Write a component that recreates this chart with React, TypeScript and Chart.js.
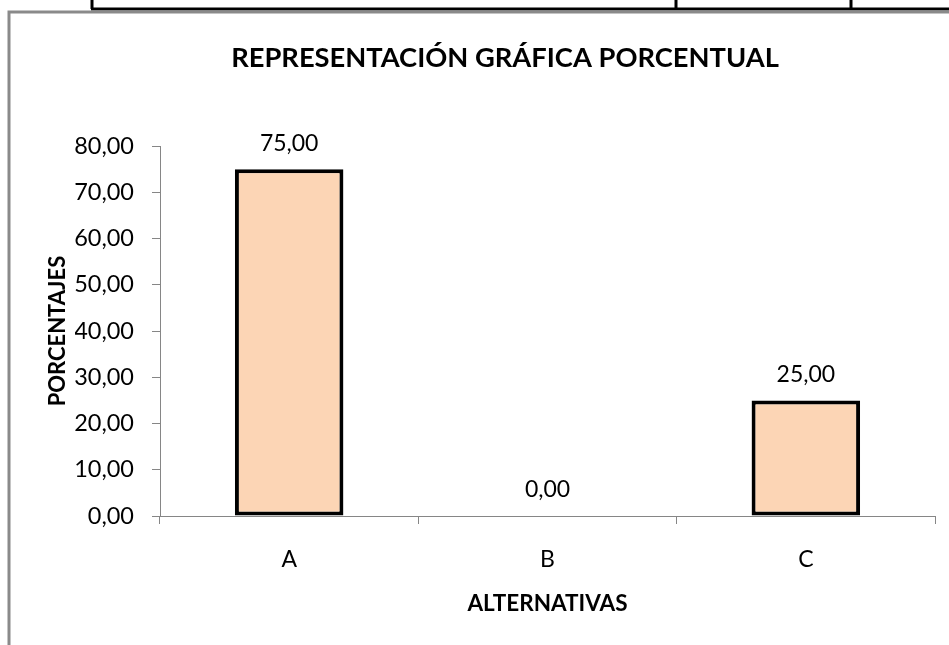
import React, { useEffect, useRef } from "react";
import { Chart, registerables } from "chart.js";

Chart.register(...registerables);

const categories = ["A", "B", "C"];
const percentages = [75, 0, 25];
const yTicks = [0, 10, 20, 30, 40, 50, 60, 70, 80];
const chartTitle = "REPRESENTACIÓN GRÁFICA PORCENTUAL";
const xTitle = "ALTERNATIVAS";
const yTitle = "PORCENTAJES";

const FONT = "Lato, 'Open Sans', sans-serif";
const fmt = (v: number) => v.toFixed(2).replace(".", ",");

const decorPlugin = {
  id: "decor",
  beforeDraw(chart: any) {
    const ctx = chart.ctx;
    ctx.save();
    ctx.fillStyle = "#ffffff";
    ctx.fillRect(0, 0, chart.width, chart.height);
    // table fragment at the top
    ctx.strokeStyle = "#000000";
    ctx.lineWidth = 3;
    ctx.beginPath();
    ctx.moveTo(91, 9);
    ctx.lineTo(949, 9);
    [92, 676, 851].forEach((x) => {
      ctx.moveTo(x, 0);
      ctx.lineTo(x, 9);
    });
    ctx.stroke();
    // chart frame
    ctx.strokeStyle = "#8a8a8a";
    ctx.lineWidth = 3;
    ctx.beginPath();
    ctx.moveTo(9, 645);
    ctx.lineTo(9, 12);
    ctx.lineTo(949, 12);
    ctx.stroke();
    ctx.restore();
  },
};

const labelPlugin = {
  id: "valueLabels",
  afterDatasetsDraw(chart: any) {
    const ctx = chart.ctx;
    const meta = chart.getDatasetMeta(0);
    ctx.save();
    ctx.fillStyle = "#000000";
    ctx.font = `23px ${FONT}`;
    ctx.textAlign = "center";
    ctx.textBaseline = "middle";
    meta.data.forEach((bar: any, i: number) => {
      ctx.fillText(fmt(percentages[i]), bar.x, bar.y - 26);
    });
    ctx.restore();
  },
};

const PAD_LEFT = 75;

export default function App() {
  const ref = useRef<HTMLCanvasElement>(null);
  useEffect(() => {
    if (!ref.current) return;
    const chart = new Chart(ref.current, {
      type: "bar",
      data: {
        labels: categories,
        datasets: [
          {
            data: percentages,
            backgroundColor: "#FCD5B5",
            borderColor: "#000000",
            borderWidth: (c: any) => (c.raw === 0 ? 0 : 4),
            borderSkipped: false,
            categoryPercentage: 1,
            barPercentage: 0.42,
          },
        ],
      },
      options: {
        responsive: false,
        animation: false,
        layout: { padding: { left: PAD_LEFT, right: 14, top: 0, bottom: 0 } },
        plugins: {
          legend: { display: false },
          tooltip: { enabled: false },
          title: {
            display: true,
            text: chartTitle,
            color: "#000000",
            font: { family: FONT, size: 27.3, weight: "bold", lineHeight: 1.2 },
            padding: { top: 42, bottom: 71.4 },
          },
        },
        scales: {
          x: {
            grid: {
              drawOnChartArea: false,
              drawTicks: true,
              tickLength: 8,
              color: "#868686",
              offset: true,
            },
            border: { display: true, color: "#868686", width: 1 },
            ticks: {
              color: "#000000",
              font: { family: FONT, size: 23 },
              padding: 22,
            },
            title: {
              display: true,
              text: xTitle,
              color: "#000000",
              font: { family: FONT, size: 22.5, weight: "bold", lineHeight: 1.2 },
              padding: { top: 0, bottom: 28 },
            },
            afterFit: (s: any) => {
              s.height = 645 - 516;
            },
          },
          y: {
            min: 0,
            max: 80,
            afterBuildTicks: (s: any) => {
              s.ticks = yTicks.map((v) => ({ value: v }));
            },
            grid: {
              drawOnChartArea: false,
              drawTicks: true,
              tickLength: 8,
              color: "#868686",
            },
            border: { display: true, color: "#868686", width: 1 },
            ticks: {
              color: "#000000",
              font: { family: FONT, size: 23.5 },
              padding: 18,
              callback: (v: any) => fmt(Number(v)),
            },
            title: {
              display: true,
              text: yTitle,
              color: "#000000",
              font: { family: FONT, size: 22, weight: "bold", lineHeight: 1.2 },
              padding: { top: 57.5 - 13.2 - PAD_LEFT, bottom: 0 },
            },
            afterFit: (s: any) => {
              s.width = 160 - PAD_LEFT;
            },
          },
        },
      },
      plugins: [decorPlugin, labelPlugin],
    } as any);
    return () => chart.destroy();
  }, []);
  return (
    <div style={{ position: "absolute", left: 0, top: 0, width: 949, height: 645 }}>
      <canvas ref={ref} width={949} height={645} style={{ display: "block" }} />
    </div>
  );
}
